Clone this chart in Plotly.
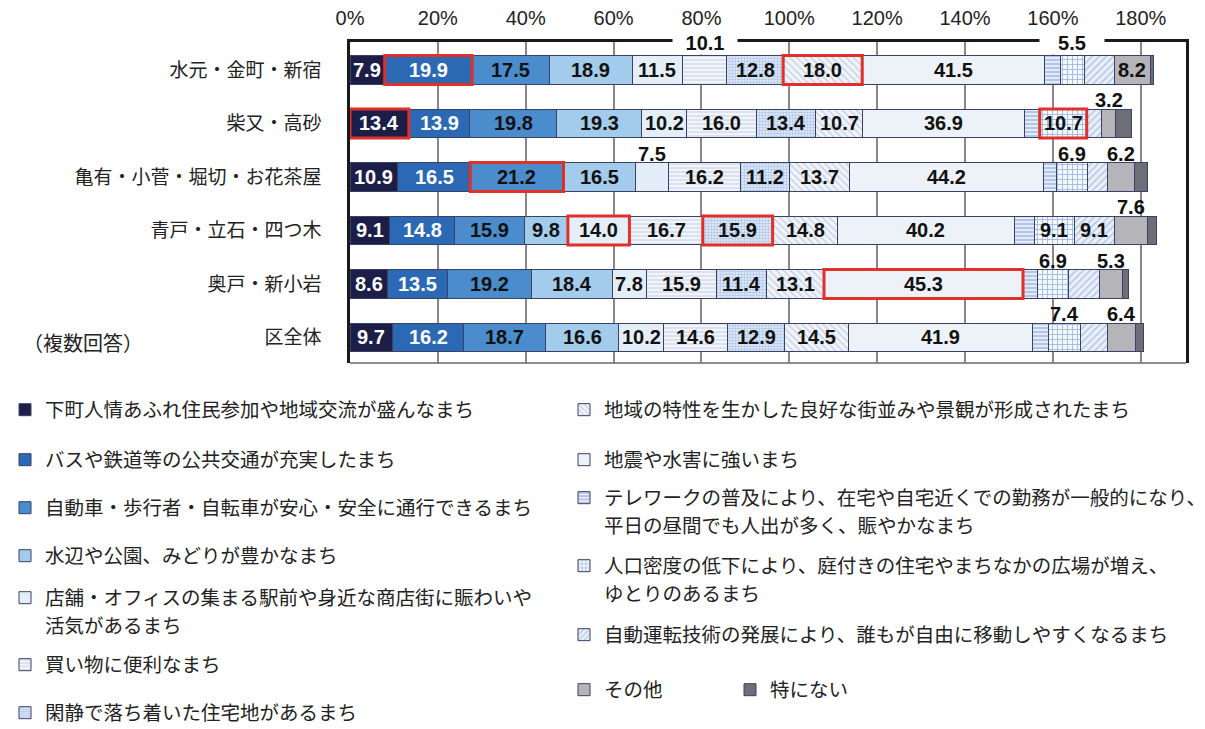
import plotly.graph_objects as go

# ---- data -------------------------------------------------------------
areas = ["水元・金町・新宿", "柴又・高砂", "亀有・小菅・堀切・お花茶屋",
         "青戸・立石・四つ木", "奥戸・新小岩", "区全体"]

community     = [7.9, 13.4, 10.9, 9.1, 8.6, 9.7]
transit       = [19.9, 13.9, 16.5, 14.8, 13.5, 16.2]
road_safety   = [17.5, 19.8, 21.2, 15.9, 19.2, 18.7]
greenery      = [18.9, 19.3, 16.5, 9.8, 18.4, 16.6]
station_shops = [11.5, 10.2, 7.5, 14.0, 7.8, 10.2]
shopping      = [10.1, 16.0, 16.2, 16.7, 15.9, 14.6]
quiet         = [12.8, 13.4, 11.2, 15.9, 11.4, 12.9]
townscape     = [18.0, 10.7, 13.7, 14.8, 13.1, 14.5]
disaster      = [41.5, 36.9, 44.2, 40.2, 45.3, 41.9]
telework      = [3.6, 3.4, 3.0, 4.6, 3.4, 3.6]
low_density   = [5.5, 10.7, 6.9, 9.1, 6.9, 7.4]
autonomous    = [6.8, 3.4, 4.6, 9.1, 7.0, 6.2]
other         = [8.2, 3.2, 6.2, 7.6, 5.3, 6.4]
nothing       = [0.6, 3.5, 3.0, 2.0, 1.3, 1.8]

# legend texts; a second element is the wrapped continuation line
series_names = [
    ("下町人情あふれ住民参加や地域交流が盛んなまち",),
    ("バスや鉄道等の公共交通が充実したまち",),
    ("自動車・歩行者・自転車が安心・安全に通行できるまち",),
    ("水辺や公園、みどりが豊かなまち",),
    ("店舗・オフィスの集まる駅前や身近な商店街に賑わいや", "活気があるまち"),
    ("買い物に便利なまち",),
    ("閑静で落ち着いた住宅地があるまち",),
    ("地域の特性を生かした良好な街並みや景観が形成されたまち",),
    ("地震や水害に強いまち",),
    ("テレワークの普及により、在宅や自宅近くでの勤務が一般的になり、",
     "平日の昼間でも人出が多く、賑やかなまち"),
    ("人口密度の低下により、庭付きの住宅やまちなかの広場が増え、", "ゆとりのあるまち"),
    ("自動運転技術の発展により、誰もが自由に移動しやすくなるまち",),
    ("その他",),
    ("特にない",),
]
series_values = [community, transit, road_safety, greenery, station_shops,
                 shopping, quiet, townscape, disaster, telework,
                 low_density, autonomous, other, nothing]

# where each value label sits: i = inside the bar, a = above the bar, - = none
label_pos = ["iiiiii", "iiiiii", "iiiiii", "iiiiii", "iiaiii", "aiiiii",
             "iiiiii", "iiiiii", "iiiiii", "------", "aiaiaa", "---i--",
             "iaaaaa", "------"]

# segments outlined in red: (area index, series index)
highlights = [(0, 1), (0, 7), (1, 0), (1, 10), (2, 2), (3, 4), (3, 6), (4, 8)]

x_ticks = [0, 20, 40, 60, 80, 100, 120, 140, 160, 180]

# ---- styling ----------------------------------------------------------
# (fill colour, pattern shape, pattern colour, pattern size, solidity, label colour)
styles = [
    ("#1c1e48", "", None, 0, 0, "white"),
    ("#2b69b4", "", None, 0, 0, "white"),
    ("#4b8ccd", "", None, 0, 0, "#111111"),
    ("#a3cbeb", "", None, 0, 0, "#111111"),
    ("#e4eef9", "", None, 0, 0, "#111111"),
    ("#f1f4fa", "-", "#a8b8d6", 4, 0.3, "#111111"),
    ("#e6eef9", ".", "#7a9fd6", 3, 0.5, "#111111"),
    ("#f0f3f9", "\\", "#8fa7cf", 5, 0.25, "#111111"),
    ("#edf1f8", "", None, 0, 0, "#111111"),
    ("#e2eaf6", "-", "#6e91ca", 4, 0.4, "#111111"),
    ("#f4f7fc", "+", "#5483cc", 5, 0.35, "#111111"),
    ("#e9eff8", "/", "#7f9fd3", 5, 0.3, "#111111"),
    ("#b4b4b9", "", None, 0, 0, "#111111"),
    ("#6e6e78", "", None, 0, 0, "#111111"),
]

W, H = 1205, 729
L, R, T, B = 350, 1186, 42, 363          # plot area in pixels
BAR_W = 0.54
X_MAX = 190.3
LINE_GAP = 26                            # wrapped legend line spacing (px)

def px_to_paper_x(px):
    return (px - L) / (R - L)

def px_to_paper_y(py):
    return (B - py) / (B - T)

# legend entry positions: (text left, first-line centre y) in pixels
legend_px = [
    (45, 410), (45, 460), (45, 508), (45, 556), (45, 598), (45, 665), (45, 713),
    (604, 410), (604, 460), (604, 498), (604, 566), (604, 635), (604, 690), (770, 690),
]

NUM_FONT = dict(family="Liberation Sans, Arial, sans-serif", size=20, color="#111111")
JP_FONT = "Noto Sans CJK JP, sans-serif"
LEGEND_FONT = dict(family=JP_FONT, size=19.5, color="#222222")

fig = go.Figure()

for k, (name, vals) in enumerate(zip(series_names, series_values)):
    fill, shape, fg, size, solid, _ = styles[k]
    marker = dict(color=fill, line=dict(color="#3b4166", width=1))
    if shape:
        marker["pattern"] = dict(shape=shape, fgcolor=fg, size=size,
                                 solidity=solid, fillmode="overlay")
    legend_id = "legend" if k == 0 else f"legend{k + 1}"
    fig.add_trace(go.Bar(
        name=name[0], y=areas, x=vals, orientation="h", width=BAR_W,
        marker=marker, legend=legend_id, hoverinfo="skip",
    ))

# value labels and highlight boxes, positioned from the cumulative sums
starts = [[0.0] * len(areas) for _ in series_values]
for i in range(len(areas)):
    acc = 0.0
    for k, vals in enumerate(series_values):
        starts[k][i] = acc
        acc += vals[i]

annotations = []
for k, vals in enumerate(series_values):
    for i, v in enumerate(vals):
        pos = label_pos[k][i]
        if pos == "-":
            continue
        mid = starts[k][i] + v / 2
        font = dict(NUM_FONT)
        if pos == "i":
            font["color"] = styles[k][5]
            annotations.append(dict(x=mid, y=areas[i], xref="x", yref="y",
                                    text=f"<b>{v:.1f}</b>", showarrow=False, font=font))
        else:
            ann = dict(x=mid, y=areas[i], xref="x", yref="y",
                       text=f"<b>{v:.1f}</b>", showarrow=False, font=font,
                       yshift=27 if i == 0 else 23)
            if i == 0:
                ann.update(bgcolor="white", width=64, borderpad=0)
            annotations.append(ann)

shapes = []
for i, k in highlights:
    shapes.append(dict(type="rect", xref="x", yref="y",
                       x0=starts[k][i], x1=starts[k][i] + series_values[k][i],
                       y0=i - BAR_W / 2, y1=i + BAR_W / 2,
                       line=dict(color="#e0302a", width=3), fillcolor="rgba(0,0,0,0)"))

# bottom edge of the frame
shapes.append(dict(type="line", xref="x domain", yref="y domain", x0=0, x1=1, y0=0, y1=0,
                   line=dict(color="#6f6666", width=1.5)))

annotations.append(dict(xref="paper", yref="paper", x=px_to_paper_x(21), y=px_to_paper_y(342),
                        xanchor="left", yanchor="middle", showarrow=False,
                        text="（複数回答）", font=dict(family=JP_FONT, size=20, color="#222222")))

layout_legends = {}
for k, (tx, ty) in enumerate(legend_px):
    legend_id = "legend" if k == 0 else f"legend{k + 1}"
    layout_legends[legend_id] = dict(
        x=px_to_paper_x(tx - 40), y=px_to_paper_y(ty), xanchor="left", yanchor="middle",
        font=LEGEND_FONT, bgcolor="rgba(0,0,0,0)", itemclick=False, itemdoubleclick=False,
    )
    # continuation line of a wrapped legend entry
    for j, line in enumerate(series_names[k][1:], start=1):
        annotations.append(dict(
            xref="paper", yref="paper", x=px_to_paper_x(tx - 2),
            y=px_to_paper_y(ty + LINE_GAP * j), xanchor="left", yanchor="middle",
            showarrow=False, text=line, font=LEGEND_FONT,
        ))

fig.update_layout(
    width=W, height=H,
    margin=dict(l=L, r=W - R, t=T, b=H - B, pad=0, autoexpand=False),
    barmode="stack",
    plot_bgcolor="white", paper_bgcolor="white",
    showlegend=True,
    xaxis=dict(
        side="top", range=[0, X_MAX], tickvals=x_ticks,
        ticktext=[f"{t}%" for t in x_ticks],
        showgrid=True, gridcolor="#8f8585", gridwidth=1.5, zeroline=False,
        showline=True, linecolor="#1a1a1a", linewidth=2.5, mirror=False,
        ticks="", ticklabelstandoff=6, automargin=False,
        tickfont=dict(family="Liberation Sans, Arial, sans-serif", size=20, color="#222222"),
        fixedrange=True,
    ),
    yaxis=dict(
        type="category", categoryarray=areas, range=[5.477, -0.523],
        showgrid=False, zeroline=False,
        showline=True, linecolor="#1a1a1a", linewidth=2.5, mirror=True,
        ticks="", ticklabelstandoff=22, automargin=False,
        tickfont=dict(family=JP_FONT, size=19, color="#222222"),
        fixedrange=True,
    ),
    annotations=annotations,
    shapes=shapes,
    **layout_legends,
)

fig.write_html("out.html")
